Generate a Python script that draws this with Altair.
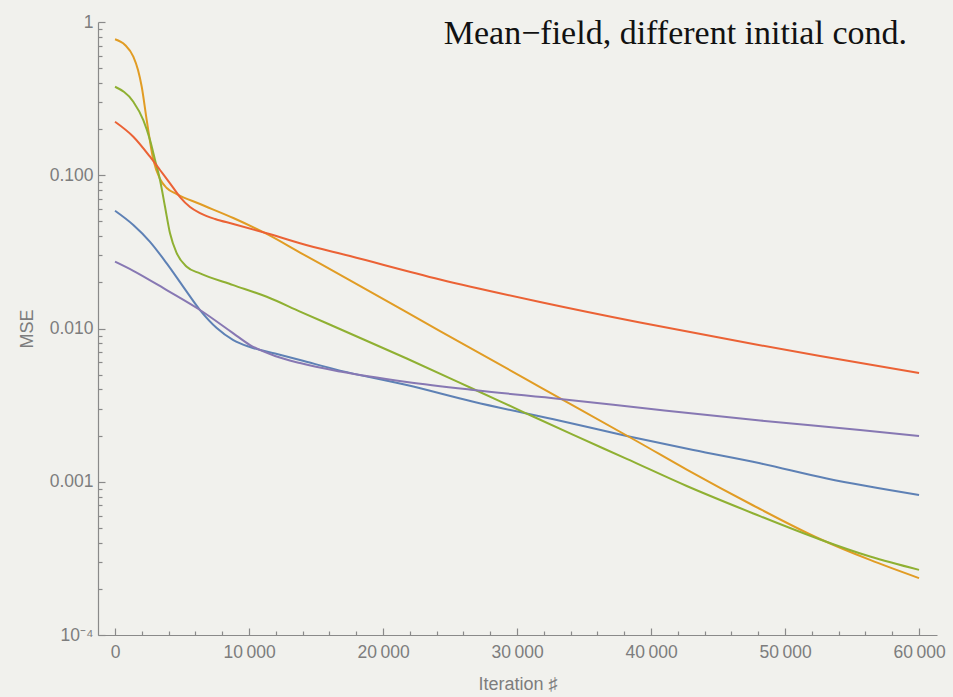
import altair as alt
import pandas as pd

# ---------------- data ----------------
series_names = ["blue", "orange", "green", "red", "purple"]
series_colors = ["#5E81B5", "#E19C24", "#8FB032", "#EB6235", "#8778B3"]

iter_blue = [0, 1366, 2612, 3858, 5097, 6343, 7590, 8828, 10075, 11940, 13806, 16791, 21769,
             26739, 33209, 38187, 43157, 48134, 53112, 60000]
mse_blue = [0.0587, 0.0474, 0.0368, 0.0266, 0.0187, 0.0132, 0.01008, 0.00841, 0.00757,
            0.00687, 0.00623, 0.00531, 0.00428, 0.00333, 0.00250, 0.00199, 0.00161,
            0.00132, 0.00105, 0.000820]

iter_orange = [0, 746, 1366, 1716, 1993, 2366, 2858, 3358, 3858, 4604, 6343, 8828, 11321,
               13806, 17537, 24254, 31716, 39179, 42664, 47634, 52612, 56343, 60000]
mse_orange = [0.771, 0.708, 0.594, 0.486, 0.378, 0.229, 0.126, 0.0945, 0.0826, 0.0754, 0.0649,
              0.0526, 0.0414, 0.0313, 0.0206, 0.00963, 0.00415, 0.00179, 0.00120, 0.000700,
              0.000423, 0.000309, 0.000235]

iter_green = [0, 1366, 2112, 2612, 2985, 3358, 3731, 4104, 4604, 5351, 6343, 8828, 11321,
              13806, 17537, 21769, 26739, 30470, 34202, 38187, 42664, 47634, 52612, 56343, 60000]
mse_green = [0.378, 0.302, 0.229, 0.170, 0.126, 0.0931, 0.0623, 0.0418, 0.0310, 0.0253,
             0.0229, 0.0192, 0.0161, 0.0129, 0.00928, 0.00637, 0.00403, 0.00285, 0.00202,
             0.00141, 0.000938, 0.000621, 0.000420, 0.000325, 0.000266]

iter_red = [0, 1366, 2612, 3358, 4104, 4851, 5597, 6343, 7463, 8828, 11321, 13806, 17537,
            24254, 31716, 39179, 47634, 52612, 60000]
mse_red = [0.2236, 0.1785, 0.1321, 0.1082, 0.0886, 0.0721, 0.0621, 0.0567, 0.0518, 0.0481,
           0.0418, 0.0360, 0.0297, 0.0209, 0.0149, 0.01094, 0.00792, 0.00662, 0.00512]

iter_purple = [0, 1366, 3858, 6343, 8828, 10075, 11940, 13806, 16791, 21769, 26739, 33209,
               40672, 48134, 55597, 60000]
mse_purple = [0.0273, 0.0238, 0.0178, 0.0132, 0.00930, 0.00780, 0.00662, 0.00595, 0.00524,
              0.00448, 0.00397, 0.00347, 0.00294, 0.00251, 0.00218, 0.00199]

x_tick_values = [0, 10000, 20000, 30000, 40000, 50000, 60000]
x_tick_labels = ["0", "10\u2009000", "20\u2009000", "30\u2009000", "40\u2009000",
                 "50\u2009000", "60\u2009000"]
x_minor_ticks = [v for v in range(0, 60001, 2000) if v % 10000 != 0]

y_major_ticks = [1, 0.1, 0.01, 0.001, 0.0001]
y_tick_labels = ["1", "0.100", "0.010", "0.001", "10\u207b\u2074"]
y_minor_ticks = [round(k * 10.0 ** d, 10) for d in range(-4, 0) for k in range(2, 10)]

title_text = "Mean\u2212field, different initial cond."

# ---------------- build table ----------------
rows = []
for name, xs, ys in [("blue", iter_blue, mse_blue), ("orange", iter_orange, mse_orange),
                     ("green", iter_green, mse_green), ("red", iter_red, mse_red),
                     ("purple", iter_purple, mse_purple)]:
    for i, (a, b) in enumerate(zip(xs, ys)):
        rows.append({"series": name, "iter": a, "mse": b, "order": i})
df = pd.DataFrame(rows)

W, H = 839, 613
AXIS_GRAY = "#8a8a8a"
LABEL_GRAY = "#7d7d7d"

xscale = alt.Scale(domain=[-1270, 61340], nice=False, zero=False)
yscale = alt.Scale(type="log", domain=[0.0001, 1], nice=False)


def label_expr(values, labels):
    parts = []
    for v, l in zip(values, labels):
        parts.append(f"datum.value == {v!r} ? '{l}' : ")
    return "".join(parts) + "''"


x_label_axis = alt.Axis(
    orient="bottom", values=x_tick_values, labelExpr=label_expr(x_tick_values, x_tick_labels),
    ticks=False, domain=True, domainColor=AXIS_GRAY, domainWidth=1.2, grid=False,
    labelFont="Liberation Sans", labelFontSize=17.5, labelColor=LABEL_GRAY, labelPadding=8,
    labelOverlap=False, labelFlush=False,
    title="Iteration \u266f", titleFont="Liberation Sans", titleFontSize=18,
    titleFontWeight="normal", titleColor=LABEL_GRAY, titleX=W / 2, titleY=49,
    titleBaseline="middle", titleAlign="center",
)
y_label_axis = alt.Axis(
    orient="left", values=y_major_ticks, labelExpr=label_expr(y_major_ticks, y_tick_labels),
    ticks=False, domain=True, domainColor=AXIS_GRAY, domainWidth=1.2, grid=False,
    labelFont="Liberation Sans", labelFontSize=17.5, labelColor=LABEL_GRAY, labelPadding=5,
    labelOverlap=False, labelFlush=False,
    title="MSE", titleFont="Liberation Sans", titleFontSize=18, titleFontWeight="normal",
    titleColor=LABEL_GRAY, titleX=-71, titleY=H / 2, titleAngle=270,
    titleBaseline="middle", titleAlign="center",
)


def tick_axis(orient, values, size):
    return alt.Axis(orient=orient, values=values, labels=False, domain=False, grid=False,
                    ticks=True, tickSize=size, offset=-size, tickColor=AXIS_GRAY,
                    tickWidth=1.2, title=None)


lines = alt.Chart(df).mark_line(strokeWidth=2, interpolate="monotone").encode(
    x=alt.X("iter:Q", scale=xscale, axis=x_label_axis),
    y=alt.Y("mse:Q", scale=yscale, axis=y_label_axis),
    color=alt.Color("series:N", scale=alt.Scale(domain=series_names, range=series_colors),
                    legend=None),
    order="order:Q",
)

major_ticks = alt.Chart(df).mark_point(opacity=0).encode(
    x=alt.X("iter:Q", scale=xscale, axis=tick_axis("bottom", x_tick_values, 7)),
    y=alt.Y("mse:Q", scale=yscale, axis=tick_axis("left", y_major_ticks, 7)),
)
minor_ticks = alt.Chart(df).mark_point(opacity=0).encode(
    x=alt.X("iter:Q", scale=xscale, axis=tick_axis("bottom", x_minor_ticks, 4)),
    y=alt.Y("mse:Q", scale=yscale, axis=tick_axis("left", y_minor_ticks, 4)),
)

chart = alt.layer(lines, major_ticks, minor_ticks).resolve_axis(
    x="independent", y="independent"
).properties(
    width=W, height=H,
    autosize=alt.AutoSizeParams(type="none"),
    padding={"left": 98, "top": 22, "right": 16, "bottom": 62},
    background="#f1f1ed",
    title=alt.TitleParams(
        text=title_text, anchor="end", frame="group", orient="top", offset=0,
        dx=-30, dy=65, baseline="alphabetic", font="Liberation Serif", fontSize=34,
        fontWeight="normal", color="#111111",
    ),
).configure_view(stroke=None)

chart.save("out.html", embed_options={"renderer": "svg", "actions": False})
